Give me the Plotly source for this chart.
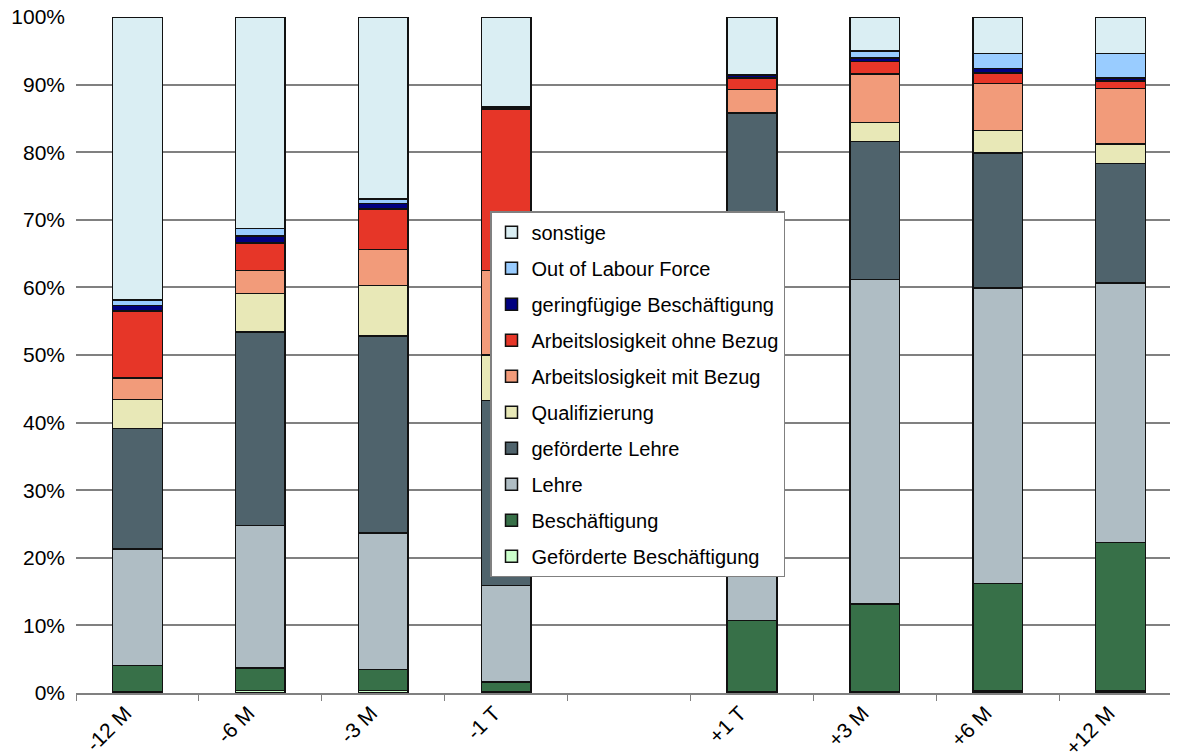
import plotly.graph_objects as go

categories = ["-12 M", "-6 M", "-3 M", "-1 T", "+1 T", "+3 M", "+6 M", "+12 M"]
axis_categories = ["-12 M", "-6 M", "-3 M", "-1 T", " ", "+1 T", "+3 M", "+6 M", "+12 M"]

gefoerderte_beschaeftigung = [0.2, 0.4, 0.4, 0.2, 0.2, 0.2, 0.3, 0.3]
beschaeftigung = [3.9, 3.3, 3.1, 1.4, 10.55, 13.0, 15.9, 22.0]
lehre = [17.2, 21.1, 20.2, 14.3, 56.25, 48.0, 43.7, 38.35]
gefoerderte_lehre = [17.8, 28.6, 29.1, 27.4, 18.8, 20.4, 20.0, 17.65]
qualifizierung = [4.3, 5.7, 7.5, 6.7, 0.0, 2.8, 3.3, 2.9]
al_mit_bezug = [3.2, 3.4, 5.3, 12.5, 3.5, 7.2, 7.0, 8.2]
al_ohne_bezug = [9.9, 4.1, 6.0, 23.9, 1.7, 1.8, 1.5, 1.1]
geringfuegig = [0.85, 1.0, 0.8, 0.3, 0.4, 0.5, 0.7, 0.5]
out_of_labour_force = [0.75, 1.1, 0.7, 0.0, 0.0, 1.1, 2.2, 3.6]
sonstige = [41.9, 31.3, 26.9, 13.3, 8.6, 5.0, 5.4, 5.4]

series = [
    ("Geförderte Beschäftigung", gefoerderte_beschaeftigung, "#CCFFCC"),
    ("Beschäftigung", beschaeftigung, "#377048"),
    ("Lehre", lehre, "#AFBDC4"),
    ("geförderte Lehre", gefoerderte_lehre, "#4F636C"),
    ("Qualifizierung", qualifizierung, "#E8E8B7"),
    ("Arbeitslosigkeit mit Bezug", al_mit_bezug, "#F29B7A"),
    ("Arbeitslosigkeit ohne Bezug", al_ohne_bezug, "#E63628"),
    ("geringfügige Beschäftigung", geringfuegig, "#000080"),
    ("Out of Labour Force", out_of_labour_force, "#99CCFF"),
    ("sonstige", sonstige, "#DAEEF3"),
]

FONT = "Liberation Sans, Arial, sans-serif"

fig = go.Figure()
n = len(series)
for i, (name, vals, color) in enumerate(series):
    fig.add_trace(go.Bar(
        x=categories, y=vals, name=name, legendgroup=f"g{i}",
        legendrank=(n - i) * 10,
        marker=dict(color=color, line=dict(color="#111111", width=1.5)),
        width=0.405,
    ))

# page body has an 8px margin, so the figure is offset by (8, 8)
fig.update_layout(
    width=1170, height=746,
    barmode="stack",
    plot_bgcolor="white", paper_bgcolor="white",
    margin=dict(l=68, r=0, t=9, b=61),
    font=dict(family=FONT, size=20, color="#000000"),
    legend=dict(
        x=(490 - 76) / 1102, y=(692.7 - 211) / 676, xanchor="left", yanchor="top",
        traceorder="grouped", tracegroupgap=7,
        bgcolor="white", bordercolor="#808080", borderwidth=1.5,
        font=dict(family=FONT, size=20, color="#000000"),
        itemwidth=30,
    ),
    showlegend=True,
)
fig.update_xaxes(
    type="category", categoryorder="array", categoryarray=axis_categories,
    range=[-0.5, 8.467], tickangle=-45, automargin=False,
    ticks="outside", tickson="boundaries", ticklen=6, tickcolor="#808080",
    ticklabelshift=-12, ticklabelstandoff=-2, ticklabeloverflow="allow",
    showline=True, linecolor="#808080", linewidth=1.5,
    showgrid=False,
    tickfont=dict(family=FONT, size=21),
)
fig.update_yaxes(
    range=[0, 100], dtick=10, ticksuffix="%", automargin=False,
    showgrid=True, gridcolor="#808080", gridwidth=1.5,
    showline=False, zeroline=False, ticklabeloverflow="allow",
    ticks="", ticklabelstandoff=10, tickfont=dict(family=FONT, size=21),
)

fig.write_html("out.html")
